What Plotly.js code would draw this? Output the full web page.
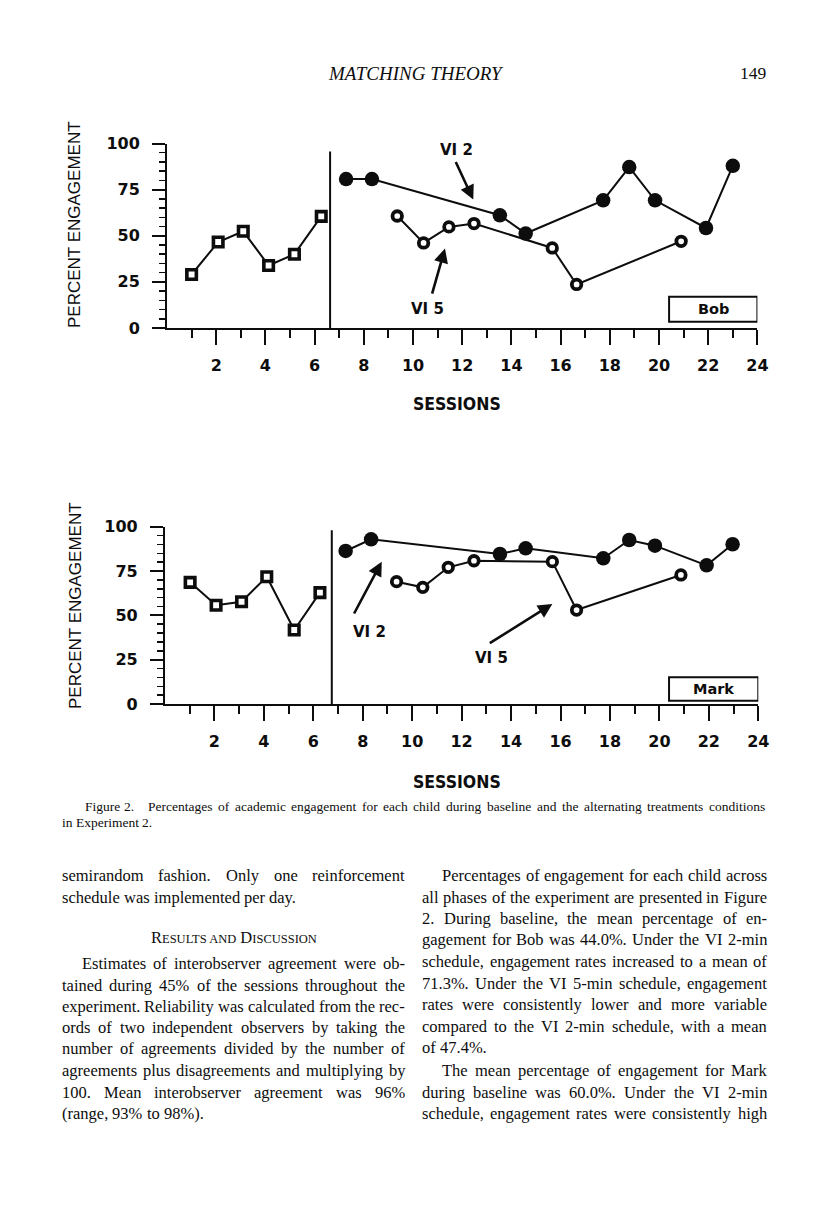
<!DOCTYPE html>
<html><head><meta charset="utf-8">
<script src="https://cdn.plot.ly/plotly-3.0.1.min.js"></script>
<style>html,body{margin:0;padding:0;background:#fff}#chart{width:816px;height:1217px}</style>
</head><body><div id="chart"></div>
<script>
// ---------- data ----------
const bobBaseX = [1.0, 2.08, 3.1, 4.13, 5.18, 6.27];
const bobBaseY = [29, 46.6, 52.4, 33.9, 40, 60.5];
const bobVI2X = [7.28, 8.33, 13.53, 14.58, 17.73, 18.79, 19.84, 21.91, 23.0];
const bobVI2Y = [80.7, 80.7, 61.1, 51.2, 69.2, 87.2, 69.2, 54.2, 87.9];
const bobVI5X = [9.36, 10.43, 11.46, 12.48, 15.66, 16.65, 20.9];
const bobVI5Y = [60.7, 46.1, 54.8, 56.6, 43.4, 23.6, 47.0];

const markBaseX = [1.02, 2.07, 3.1, 4.12, 5.23, 6.27];
const markBaseY = [68.6, 55.7, 57.7, 71.8, 41.7, 62.8];
const markVI2X = [7.31, 8.34, 13.55, 14.59, 17.73, 18.78, 19.82, 21.91, 22.96];
const markVI2Y = [86.3, 92.9, 84.6, 87.8, 82.2, 92.5, 89.3, 78.2, 90.1];
const markVI5X = [9.37, 10.43, 11.46, 12.5, 15.67, 16.65, 20.87];
const markVI5Y = [69.0, 65.8, 77.1, 80.8, 80.3, 53.0, 72.8];

const xTickVals = [2, 4, 6, 8, 10, 12, 14, 16, 18, 20, 22, 24];
const xTickText = ["2", "4", "6", "8", "10", "12", "14", "16", "18", "20", "22", "24"];
const xMinorVals = [1, 3, 5, 7, 9, 11, 13, 15, 17, 19, 21, 23];
const yTickVals = [0, 25, 50, 75, 100];
const yTickText = ["0", "25", "50", "75", "100"];

const phaseChangeBob = 6.63;
const phaseChangeMark = 6.75;

// page text
const headerLeft = "MATCHING THEORY";
const headerRight = "149";
const captionFirst = "Figure 2.";
const captionLine1 = "Percentages of academic engagement for each child during baseline and the alternating treatments conditions";
const captionLine2 = "in Experiment 2.";
const leftCol = [
  ["semirandom fashion. Only one reinforcement", 875, 0, true],
  ["schedule was implemented per day.", 897, 0, false],
  ["Estimates of interobserver agreement were ob-", 963, 20, true],
  ["tained during 45% of the sessions throughout the", 985, 0, true],
  ["experiment. Reliability was calculated from the rec-", 1006, 0, true],
  ["ords of two independent observers by taking the", 1027, 0, true],
  ["number of agreements divided by the number of", 1048, 0, true],
  ["agreements plus disagreements and multiplying by", 1070, 0, true],
  ["100. Mean interobserver agreement was 96%", 1092, 0, true],
  ["(range, 93% to 98%).", 1113, 0, false]
];
const rightCol = [
  ["Percentages of engagement for each child across", 875, 20, true],
  ["all phases of the experiment are presented in Figure", 897, 0, true],
  ["2. During baseline, the mean percentage of en-", 918, 0, true],
  ["gagement for Bob was 44.0%. Under the VI 2-min", 940, 0, true],
  ["schedule, engagement rates increased to a mean of", 961, 0, true],
  ["71.3%. Under the VI 5-min schedule, engagement", 983, 0, true],
  ["rates were consistently lower and more variable", 1004, 0, true],
  ["compared to the VI 2-min schedule, with a mean", 1026, 0, true],
  ["of 47.4%.", 1047, 0, false],
  ["The mean percentage of engagement for Mark", 1070, 20, true],
  ["during baseline was 60.0%. Under the VI 2-min", 1092, 0, true],
  ["schedule, engagement rates were consistently high", 1113, 0, true]
];

// ---------- layout helpers ----------
const W = 816, H = 1217;
const px = x => x / W;
const py = y => 1 - y / H;
const INK = '#0d0d0d';
const sansBold = 'DejaVu Sans, Liberation Sans, sans-serif';
const serif = 'Liberation Serif, Times New Roman, serif';

function xax(dom, anchor) {
  return {
    domain: dom, range: [0, 24], anchor: anchor,
    showline: true, linewidth: 2, linecolor: INK, mirror: false,
    ticks: 'outside', ticklen: 15, tickwidth: 2, tickcolor: INK,
    tickmode: 'array', tickvals: xTickVals, ticktext: xTickText,
    tickfont: {family: sansBold, size: 16, weight: 'bold', color: INK},
    ticklabelstandoff: 7,
    showgrid: false, zeroline: false, fixedrange: true,
    minor: {tickmode: 'array', tickvals: xMinorVals, ticks: 'outside', ticklen: 8, tickwidth: 2, tickcolor: INK, showgrid: false}
  };
}
function yax(dom, anchor) {
  return {
    domain: dom, range: [0, 100], anchor: anchor,
    showline: true, linewidth: 2, linecolor: INK,
    ticks: 'outside', ticklen: 13, tickwidth: 2, tickcolor: INK,
    tickmode: 'array', tickvals: yTickVals, ticktext: yTickText,
    tickfont: {family: sansBold, size: 16, weight: 'bold', color: INK},
    ticklabelstandoff: 9,
    showgrid: false, zeroline: false, fixedrange: true,
    minor: {tick0: 0, dtick: 5, ticks: 'outside', ticklen: 6, tickwidth: 1.5, tickcolor: INK, showgrid: false}
  };
}

function series(x, y, xa, ya, kind) {
  const m = kind === 'base' ? {symbol: 'square', size: 9.5, color: '#fff', line: {color: INK, width: 3.6}}
          : kind === 'vi2' ? {symbol: 'circle', size: 14.5, color: INK, line: {color: INK, width: 0}}
          : {symbol: 'circle', size: 9.5, color: '#fff', line: {color: INK, width: 3.8}};
  return {x: x, y: y, xaxis: xa, yaxis: ya, type: 'scatter', mode: 'lines+markers',
          line: {color: INK, width: 2}, marker: m, cliponaxis: false, hoverinfo: 'skip'};
}

const data = [
  series(bobBaseX, bobBaseY, 'x', 'y', 'base'),
  series(bobVI5X, bobVI5Y, 'x', 'y', 'vi5'),
  series(bobVI2X, bobVI2Y, 'x', 'y', 'vi2'),
  series(markBaseX, markBaseY, 'x2', 'y2', 'base'),
  series(markVI5X, markVI5Y, 'x2', 'y2', 'vi5'),
  series(markVI2X, markVI2Y, 'x2', 'y2', 'vi2')
];

const anns = [];
function label(text, xr, yr, x, y, size, extra) {
  anns.push(Object.assign({xref: xr, yref: yr, x: x, y: y, text: text, showarrow: false,
    font: {family: sansBold, size: size, weight: 'bold', color: INK}, xanchor: 'center', yanchor: 'middle'}, extra || {}));
}
function arrow(xr, yr, tip, tail) {
  anns.push({xref: xr, yref: yr, axref: xr, ayref: yr, x: tip[0], y: tip[1], ax: tail[0], ay: tail[1],
    text: '', showarrow: true, arrowhead: 2, arrowsize: 1.1, arrowwidth: 2.6, arrowcolor: INK, standoff: 0, startstandoff: 0});
}

// chart labels
label('Baseline', 'x', 'y', 3.29, 102.7, 15);
label('Treatment', 'x', 'y', 15.23, 103.1, 15);
label('VI 2', 'x', 'y', 11.75, 96.6, 15);
label('VI 5', 'x', 'y', 10.58, 10.1, 15);
arrow('x', 'y', [12.45, 69.6], [11.71, 90.8]);
arrow('x', 'y', [11.3, 43.1], [10.76, 17.8]);
label('Bob', 'x', 'y', 22.2, 10.2, 14.5);

label('Baseline', 'x2', 'y2', 3.44, 103.4, 15);
label('Treatment', 'x2', 'y2', 15.33, 103.8, 15);
label('VI 2', 'x2', 'y2', 8.27, 40.8, 15);
label('VI 5', 'x2', 'y2', 13.19, 25.8, 15);
arrow('x2', 'y2', [8.77, 80.3], [7.62, 50.2]);
arrow('x2', 'y2', [15.67, 56.4], [13.08, 33.8]);
label('Mark', 'x2', 'y2', 22.2, 8.5, 14.5);

// axis titles
const sansReg = 'Liberation Sans, Arial, sans-serif';
anns.push({xref: 'paper', yref: 'paper', x: px(75), y: py(225), text: 'PERCENT ENGAGEMENT', textangle: -90, showarrow: false,
  font: {family: sansReg, size: 17, color: INK}, xanchor: 'center', yanchor: 'middle'});
anns.push({xref: 'paper', yref: 'paper', x: px(75), y: py(606), text: 'PERCENT ENGAGEMENT', textangle: -90, showarrow: false,
  font: {family: sansReg, size: 17, color: INK}, xanchor: 'center', yanchor: 'middle'});
const narrow = 'Liberation Sans Narrow, DejaVu Sans Condensed, Arial Narrow, DejaVu Sans, sans-serif';
anns.push({xref: 'paper', yref: 'paper', x: px(457), y: py(404), text: 'SESSIONS', showarrow: false,
  font: {family: narrow, size: 17.5, weight: 'bold', color: INK}, xanchor: 'center', yanchor: 'middle'});
anns.push({xref: 'paper', yref: 'paper', x: px(457), y: py(782), text: 'SESSIONS', showarrow: false,
  font: {family: narrow, size: 17.5, weight: 'bold', color: INK}, xanchor: 'center', yanchor: 'middle'});

// header
anns.push({xref: 'paper', yref: 'paper', x: px(416.5), y: py(73), text: headerLeft, showarrow: false,
  font: {family: serif, size: 19, style: 'italic', color: INK}, xanchor: 'center', yanchor: 'middle'});
anns.push({xref: 'paper', yref: 'paper', x: px(767), y: py(73), text: headerRight, showarrow: false,
  font: {family: serif, size: 17.5, color: INK}, xanchor: 'right', yanchor: 'middle', borderpad: 0, borderwidth: 0});

// text lines, justified via per-word placement
const ctx = document.createElement('canvas').getContext('2d');
function measure(s, size) { ctx.font = size + 'px "Liberation Serif"'; return ctx.measureText(s).width; }
function textLine(line, x0, x1, y, size, justify) {
  const ws = line.split(' ');
  const wd = ws.map(w => measure(w, size));
  const tot = wd.reduce((a, b) => a + b, 0);
  const sp = measure(' ', size);
  const gap = (justify && ws.length > 1) ? (x1 - x0 - tot) / (ws.length - 1) : sp;
  let x = x0;
  ws.forEach((w, i) => {
    anns.push({xref: 'paper', yref: 'paper', x: px(x), y: py(y), text: w, showarrow: false,
      font: {family: serif, size: size, color: INK}, xanchor: 'left', yanchor: 'middle', borderpad: 0, borderwidth: 0});
    x += wd[i] + gap;
  });
  return x;
}
// caption
const capSize = 13.5;
const fw = measure(captionFirst, capSize);
textLine(captionFirst, 85, 85 + fw, 806, capSize, false);
textLine(captionLine1, 85 + fw + 14, 765, 806, capSize, true);
textLine(captionLine2, 62, 765, 822, capSize, false);

leftCol.forEach(l => textLine(l[0], 62 + l[2], 405, l[1], 16.5, l[3]));
rightCol.forEach(l => textLine(l[0], 422 + l[2], 767, l[1], 16.5, l[3]));
anns.push({xref: 'paper', yref: 'paper', x: px(233.5), y: py(937),
  text: 'R<span style="font-size:12.5px">ESULTS AND</span> D<span style="font-size:12.5px">ISCUSSION</span>',
  showarrow: false, font: {family: serif, size: 16.5, color: INK}, xanchor: 'center', yanchor: 'middle'});

const shapes = [
  {type: 'line', xref: 'x', yref: 'y', x0: phaseChangeBob, x1: phaseChangeBob, y0: -2.9, y1: 95.6, line: {color: INK, width: 2}},
  {type: 'line', xref: 'x2', yref: 'y2', x0: phaseChangeMark, x1: phaseChangeMark, y0: -5, y1: 98, line: {color: INK, width: 2}},
  {type: 'rect', xref: 'x', yref: 'y', x0: 20.41, x1: 24, y0: 3.4, y1: 17, line: {color: INK, width: 2}},
  {type: 'rect', xref: 'x2', yref: 'y2', x0: 20.39, x1: 24, y0: 1.9, y1: 15.1, line: {color: INK, width: 2}}
];

const layout = {
  width: W, height: H, margin: {l: 0, r: 0, t: 0, b: 0, pad: 0},
  paper_bgcolor: '#fff', plot_bgcolor: 'rgba(0,0,0,0)', showlegend: false,
  xaxis: xax([167 / W, 757.4 / W], 'y'),
  yaxis: yax([py(328), py(143.5)], 'x'),
  xaxis2: xax([164.9 / W, 758.3 / W], 'y2'),
  yaxis2: yax([py(704), py(526.7)], 'x2'),
  annotations: anns, shapes: shapes
};
Plotly.newPlot('chart', data, layout, {staticPlot: true, displayModeBar: false});
</script></body></html>
